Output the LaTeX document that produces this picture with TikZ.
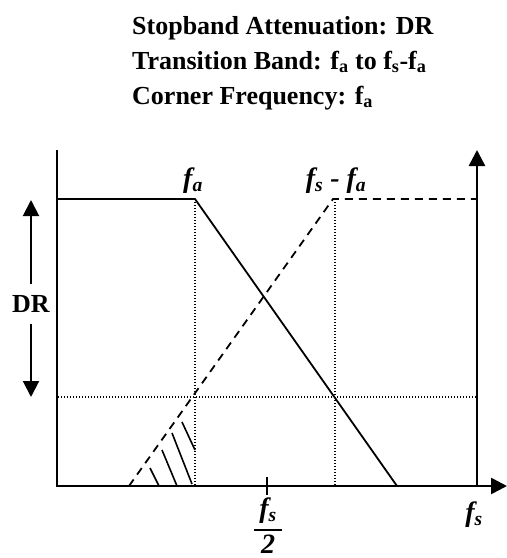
\documentclass[tikz,border=0pt]{standalone}
\usepackage{fontspec}
\setmainfont{Liberation Serif}
\usetikzlibrary{arrows.meta}
\begin{document}
\begin{tikzpicture}[x=1pt,y=-1pt,
  axis/.style={line width=2.6pt, line join=miter},
  resp/.style={line width=1.8pt},
  aliasline/.style={line width=1.8pt, dash pattern=on 8pt off 6pt},
  gridline/.style={line width=1.2pt, dash pattern=on 1.2pt off 1.8pt},
  hatch/.style={line width=1.6pt},
  tip/.style={-{Triangle[width=16pt,length=16pt]}},
  title/.style={anchor=base west, inner sep=0pt, font=\fontsize{26}{30}\selectfont\bfseries},
  lbl/.style={inner sep=0pt, font=\fontsize{28}{32}\selectfont\bfseries\itshape}]
\useasboundingbox (0,0) rectangle (507,558);

% title
\node[title] (t1) at (132,34) {Stopband Attenuation: DR};
\node[title] (t2) at (132,69) {Transition Band: f\textsubscript{a} to f\textsubscript{s}-f\textsubscript{a}};
\node[title] (t3) at (132,104) {Corner Frequency: f\textsubscript{a}};

% key points
\coordinate (ytop) at (57,150);
\coordinate (O) at (57,486);
\coordinate (xend) at (507,486);
\coordinate (fsB) at (477,486);
\coordinate (fsT) at (477,150);
\coordinate (pass0) at (57,199);
\coordinate (faT) at (195,199);
\coordinate (faB) at (195,486);
\coordinate (stopB) at (397,486);
\coordinate (alias0) at (129,486);
\coordinate (fsfaT) at (333,199);
\coordinate (aliasR) at (477,199);
\coordinate (gvT) at (335,199);
\coordinate (gvB) at (335,486);
\coordinate (ghL) at (58,397);
\coordinate (ghR) at (476,397);
\coordinate (tickT) at (267,477);
\coordinate (tickB) at (267,495);

% grid (dotted)
\draw[gridline] (faT) -- (faB);
\draw[gridline] (gvT) -- (gvB);
\draw[gridline] (ghL) -- (ghR);

% axes
\draw[axis, tip] (ytop) |- (xend);
\draw[axis, tip] (fsB) -- (fsT);
\draw[axis] (tickT) -- (tickB);

% responses
\draw[resp] (pass0) -- (faT) -- (stopB);
\draw[aliasline] (alias0) -- (fsfaT) -- (aliasR);

% hatch
\draw[hatch] (150,468) -- (159,486);
\draw[hatch] (162,450) -- (177,486);
\draw[hatch] (172,433) -- (192,484);
\draw[hatch] (182,422) -- (195,450);

% DR arrows
\node[font=\fontsize{26}{30}\selectfont\bfseries, inner sep=0pt, minimum height=40pt] (dr) at (31,304) {DR};
\coordinate (drU) at (31,200);
\coordinate (drD) at (31,397);
\draw[line width=2pt, tip] (dr.north) -- (drU);
\draw[line width=2pt, tip] (dr.south) -- (drD);

% labels
\node[lbl] (lfa) at (193,181) {f\textsubscript{a}};
\node[lbl] (lfsfa) at (336,181) {f\textsubscript{s} - f\textsubscript{a}};
\node[lbl] (lfs) at (474,515) {f\textsubscript{s}};
\setlength\arrayrulewidth{1.6pt}
\node[lbl] (lhalf) at (268,529) {\renewcommand\arraystretch{1.0}\begin{tabular}{@{\hspace{5pt}}c@{\hspace{5pt}}}f\textsubscript{s}\\[2pt]\hline 2\end{tabular}};
\end{tikzpicture}
\end{document}
